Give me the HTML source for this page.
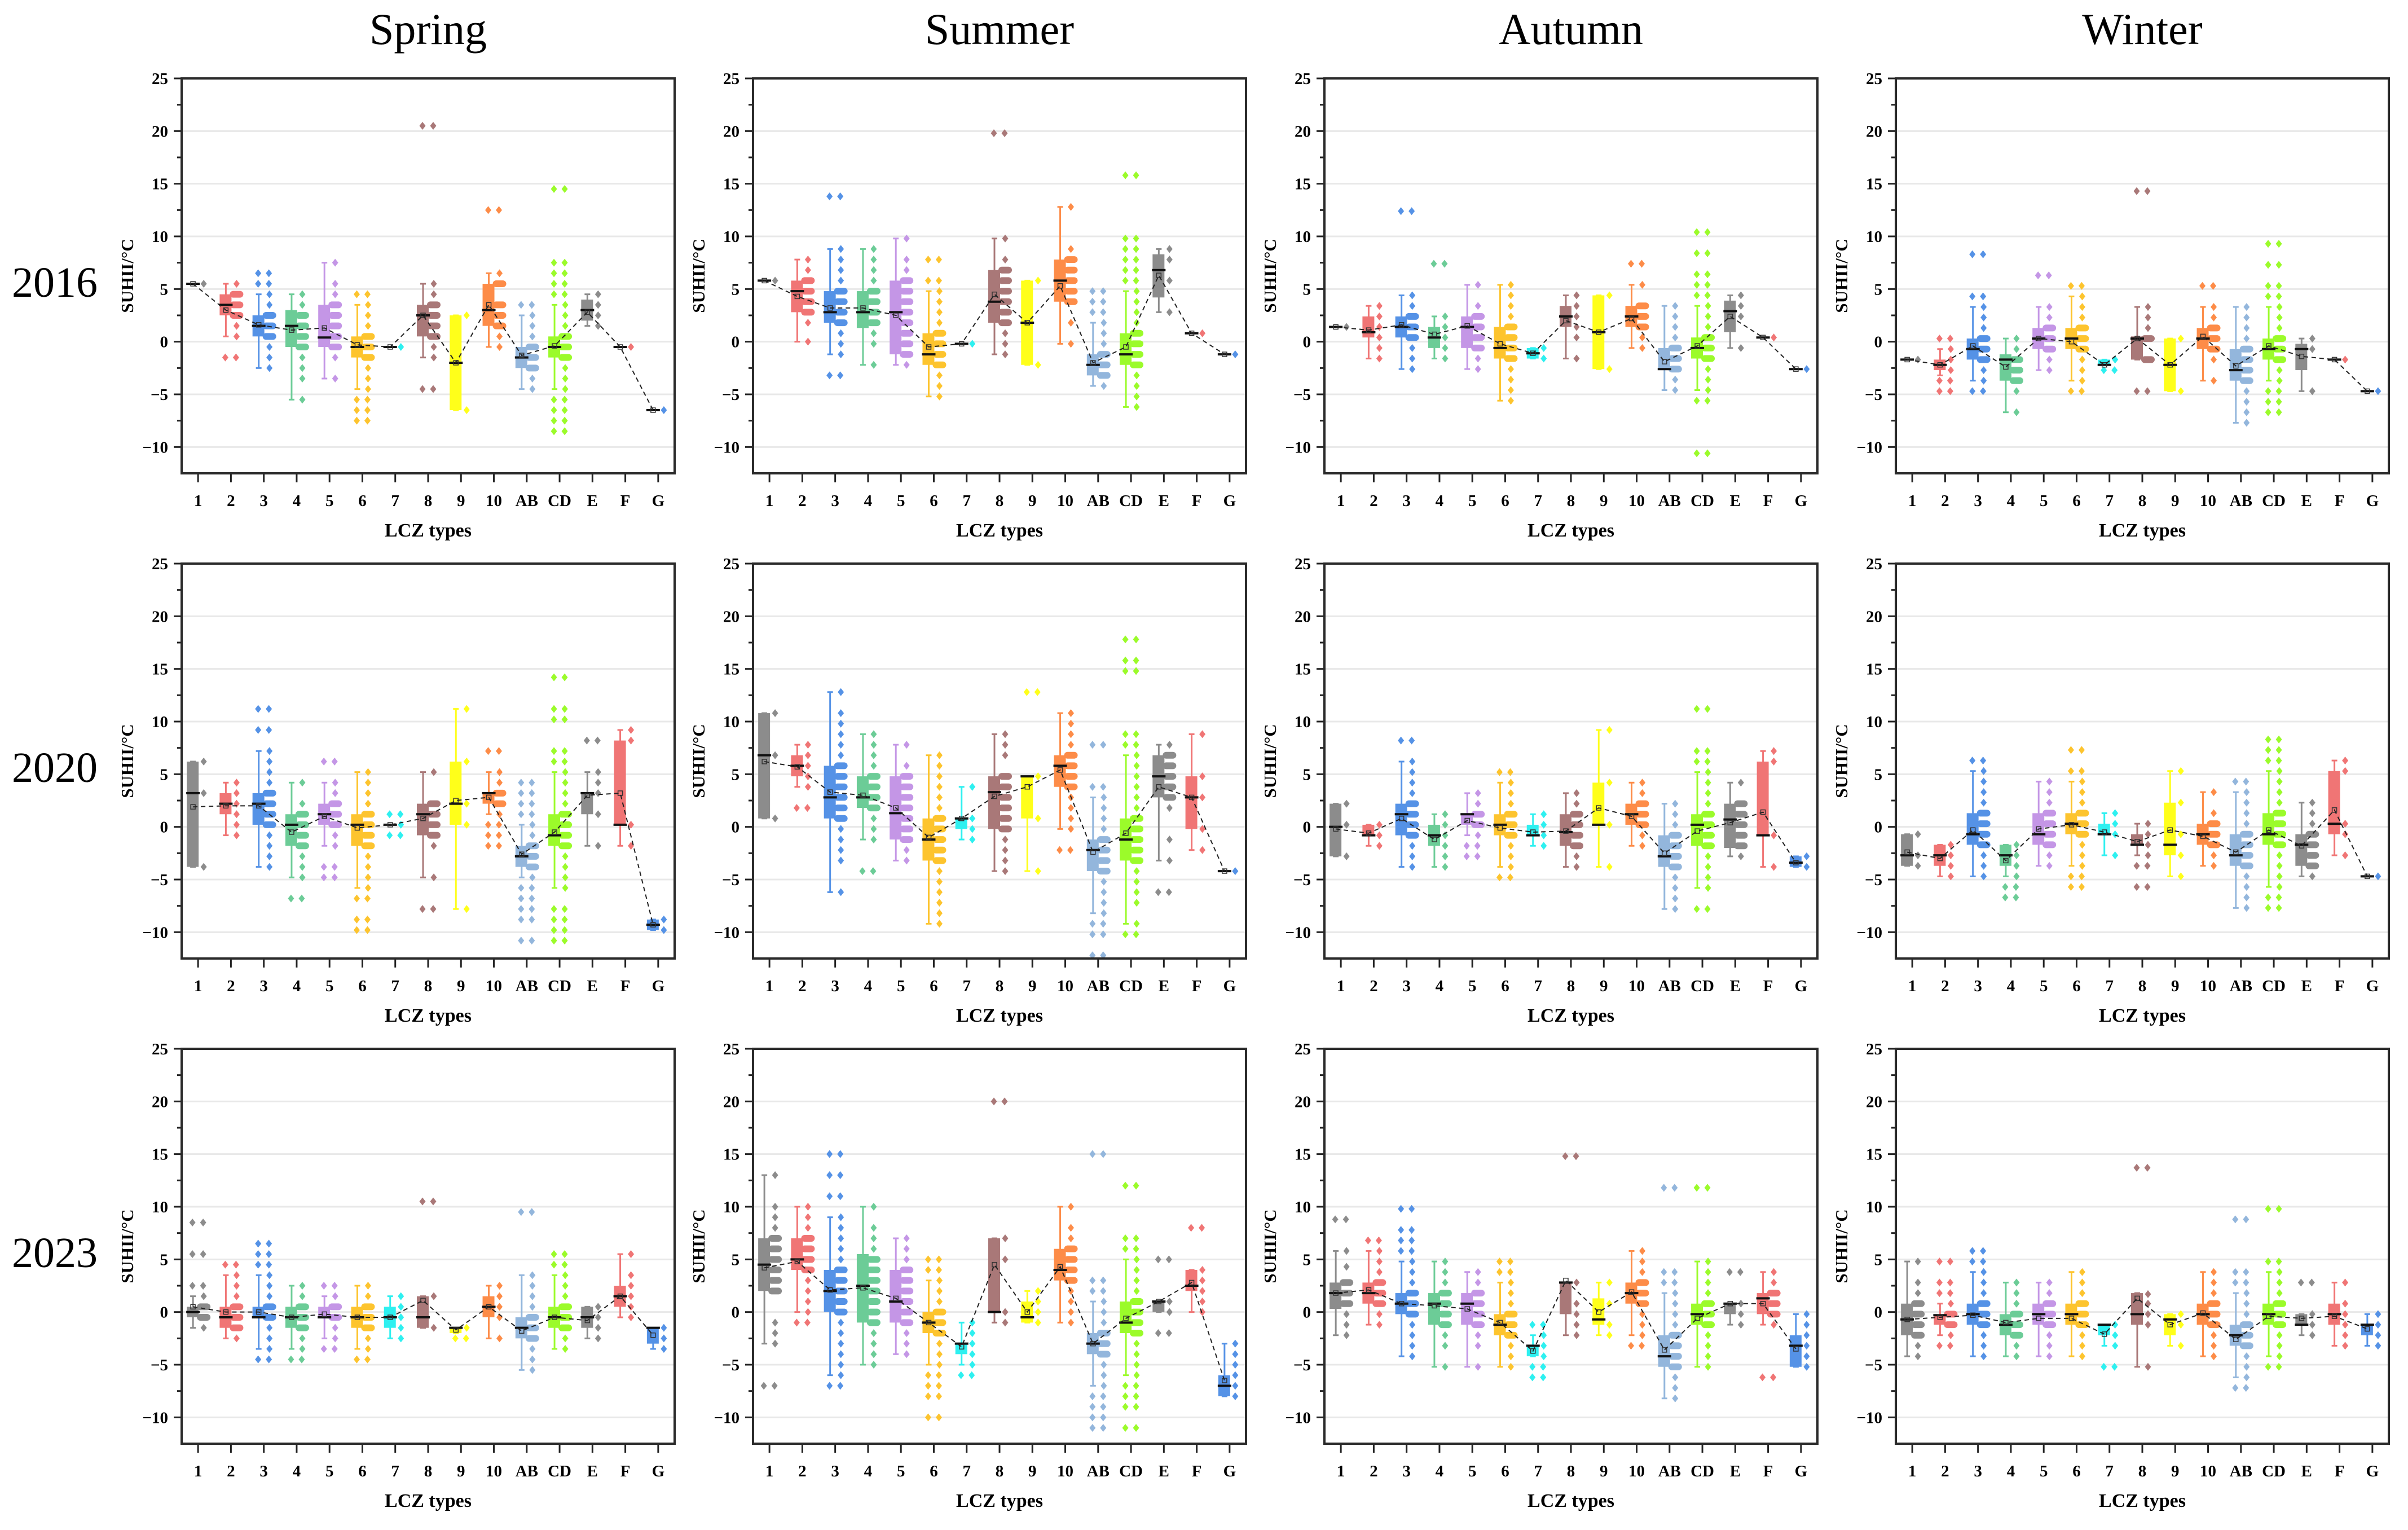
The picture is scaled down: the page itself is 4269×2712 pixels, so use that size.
<!DOCTYPE html>
<html><head><meta charset="utf-8"><title>SUHII by LCZ types</title>
<style>html,body{margin:0;padding:0;background:#fff}svg{display:block}</style></head>
<body>
<svg id="chart" xmlns="http://www.w3.org/2000/svg" width="4269" height="2712" viewBox="0 0 4269 2712" style="font-family:'Liberation Serif',serif">
<rect x="0" y="0" width="4269" height="2712" fill="#fff"/>
</svg>
<script>
const categories = ["1","2","3","4","5","6","7","8","9","10","AB","CD","E","F","G"];
const seasons = ["Spring","Summer","Autumn","Winter"];
const years = ["2016","2020","2023"];
const yTicks = [-10,-5,0,5,10,15,20,25];
const colors = ["#8c8c8c","#f07575","#5592e6","#6ccc97","#c496e6","#fdc42e","#2ef0f0","#a97878","#ffff1a","#fd8c48","#93b6dc","#9bfb2a","#8c8c8c","#f07575","#5592e6"];
// each category: [lo, q1, median, q3, hi, mean, points]
const spring2016 = [
[5.5,5.5,5.5,5.5,5.5,5.5,[5.5]],
[0.5,2.5,3.5,4.5,5.5,3.0,[5.5,4.5,3.5,2.5,1.5,0.5,-1.5]],
[-2.5,0.5,1.5,2.5,4.5,1.6,[6.5,5.5,4.5,3.5,2.5,1.5,0.5,-0.5,-1.5,-2.5]],
[-5.5,-0.5,1.5,3,4.5,1.1,[4.5,3.5,2.5,1.5,0.5,-0.5,-1.5,-2.5,-3.5,-5.5]],
[-3.5,-0.5,0.4,3.5,7.5,1.3,[7.5,5.5,4.5,3.5,2.5,1.5,0.5,-0.5,-1.5,-3.5]],
[-4.5,-1.5,-0.5,0.5,3.5,-0.3,[4.5,3.5,2.5,1.5,0.5,-0.5,-1.5,-2.5,-3.5,-4.5,-5.5,-6.5,-7.5]],
[-0.5,-0.5,-0.5,-0.5,-0.5,-0.5,[-0.5]],
[-1.5,0.5,2.5,3.5,5.5,2.5,[20.5,5.5,4.5,3.5,2.5,1.5,0.5,-0.5,-1.5,-4.5]],
[-6.5,-6.5,-2,2.5,2.5,-2,[2.5,-6.5]],
[-0.5,1.5,3,5.5,6.5,3.5,[12.5,6.5,5.5,3.5,2.5,1.5,0.5,-0.5]],
[-4.5,-2.5,-1.5,-0.5,2.5,-1.3,[3.5,2.5,1.5,0.5,-0.5,-1.5,-2.5,-3.5,-4.5]],
[-4.5,-1.5,-0.5,0.5,3.5,-0.4,[14.5,7.5,6.5,5.5,4.5,3.5,2.5,1.5,0.5,-0.5,-1.5,-2.5,-3.5,-4.5,-5.5,-6.5,-7.5,-8.5]],
[1.5,2,3,4,4.5,2.8,[4.5,3.5,2.5,1.5]],
[-0.5,-0.5,-0.5,-0.5,-0.5,-0.5,[-0.5]],
[-6.5,-6.5,-6.5,-6.5,-6.5,-6.5,[-6.5]]];
const summer2016 = [
[5.8,5.8,5.8,5.8,5.8,5.8,[5.8]],
[0,2.8,4.8,5.8,7.8,4.3,[7.8,6.8,5.8,4.8,3.8,2.8,1.8,0]],
[-1.2,1.8,2.8,4.8,8.8,3.2,[13.8,8.8,7.8,6.8,5.8,4.8,3.8,2.8,1.8,0.8,-0.2,-1.2,-3.2]],
[-2.2,1.3,2.8,4.8,8.8,3.2,[8.8,7.8,6.8,5.8,4.8,3.8,2.8,1.8,0.8,-0.2,-2.2]],
[-2.2,-1.2,2.8,5.8,9.8,2.5,[9.8,7.8,6.8,5.8,4.8,3.8,2.8,1.8,0.8,-0.2,-1.2,-2.2]],
[-5.2,-2.2,-1.2,0.8,4.8,-0.5,[7.8,5.8,4.8,3.8,2.8,1.8,0.8,-0.2,-1.2,-2.2,-3.2,-4.2,-5.2]],
[-0.2,-0.2,-0.2,-0.2,-0.2,-0.2,[-0.2]],
[-1.2,1.8,3.8,6.8,9.8,4.5,[19.8,9.8,7.8,6.8,5.8,4.8,3.8,2.8,1.8,0.8,-0.2,-1.2]],
[-2.2,-2.2,1.8,5.8,5.8,1.8,[5.8,-2.2]],
[-0.2,3.8,5.8,7.8,12.8,5.3,[12.8,8.8,7.8,6.8,5.8,4.8,3.8,1.8,-0.2]],
[-4.2,-3.2,-2.2,-1.2,1.8,-2.0,[4.8,3.8,2.8,1.8,0.8,-0.2,-1.2,-2.2,-3.2,-4.2]],
[-6.2,-2.2,-1.2,0.8,4.8,-0.5,[15.8,9.8,8.8,7.8,6.8,5.8,4.8,3.8,2.8,1.8,0.8,-0.2,-1.2,-2.2,-3.2,-4.2,-5.2,-6.2]],
[2.8,4.2,6.8,8.3,8.8,6.3,[8.8,7.8,5.8,2.8]],
[0.8,0.8,0.8,0.8,0.8,0.8,[0.8]],
[-1.2,-1.2,-1.2,-1.2,-1.2,-1.2,[-1.2]]];
const autumn2016 = [
[1.4,1.4,1.4,1.4,1.4,1.4,[1.4]],
[-1.6,0.4,0.9,2.4,3.4,1.1,[3.4,2.4,1.4,0.4,-0.6,-1.6]],
[-2.6,0.4,1.4,2.4,4.4,1.6,[12.4,4.4,3.4,2.4,1.4,0.4,-0.6,-1.6,-2.6]],
[-1.6,-0.6,0.4,1.4,2.4,0.7,[7.4,2.4,1.4,0.4,-0.6,-1.6]],
[-2.6,-0.6,1.4,2.4,5.4,1.5,[5.4,3.4,2.4,1.4,0.4,-0.6,-1.6,-2.6]],
[-5.6,-1.6,-0.6,1.4,5.4,-0.2,[5.4,4.4,3.4,2.4,1.4,0.4,-0.6,-1.6,-2.6,-3.6,-4.6,-5.6]],
[-1.6,-1.6,-1.1,-0.6,-0.6,-1.1,[-0.6,-1.6]],
[-1.6,1.4,2.4,3.4,4.4,2.0,[4.4,3.4,2.4,1.4,0.4,-1.6]],
[-2.6,-2.6,0.9,4.4,4.4,0.9,[4.4,-2.6]],
[-0.6,1.4,2.4,3.4,5.4,2.2,[7.4,5.4,3.4,2.4,1.4,0.4,-0.6]],
[-4.6,-2.6,-2.6,-0.6,3.4,-1.9,[3.4,2.4,1.4,0.4,-0.6,-1.6,-2.6,-3.6,-4.6]],
[-4.6,-1.6,-0.6,0.4,3.4,-0.4,[10.4,8.4,6.4,5.4,4.4,3.4,2.4,1.4,0.4,-0.6,-1.6,-2.6,-3.6,-4.6,-5.6,-10.6]],
[-0.6,0.9,2.9,3.9,4.4,2.4,[4.4,3.4,2.4,-0.6]],
[0.4,0.4,0.4,0.4,0.4,0.4,[0.4]],
[-2.6,-2.6,-2.6,-2.6,-2.6,-2.6,[-2.6]]];
const winter2016 = [
[-1.7,-1.7,-1.7,-1.7,-1.7,-1.7,[-1.7]],
[-3.2,-2.7,-2.2,-1.7,-0.7,-2.2,[0.3,-0.7,-1.7,-2.7,-3.7,-4.7]],
[-3.7,-1.7,-0.7,0.3,3.3,-0.4,[8.3,4.3,3.3,2.3,1.3,0.3,-0.7,-1.7,-2.7,-3.7,-4.7]],
[-6.7,-3.7,-1.7,-1.2,0.3,-2.4,[0.3,-0.7,-1.7,-2.7,-3.7,-4.7,-6.7]],
[-2.7,-0.7,0.3,1.3,3.3,0.3,[6.3,3.3,2.3,1.3,0.3,-0.7,-1.7,-2.7]],
[-3.7,-0.7,0.3,1.3,4.3,0,[5.3,4.3,3.3,2.3,1.3,0.3,-0.7,-1.7,-2.7,-3.7,-4.7]],
[-2.2,-2.2,-2.2,-1.7,-1.7,-2.2,[-1.7,-2.7]],
[-1.7,-1.7,0.3,0.5,3.3,0.3,[14.3,3.3,2.3,1.3,0.3,-1.7,-4.7]],
[-4.7,-4.7,-2.2,0.3,0.3,-2.2,[0.3,-4.7]],
[-3.7,-0.7,0.3,1.3,3.3,0.5,[5.3,3.3,2.3,1.3,0.3,-0.7,-1.7,-3.7]],
[-7.7,-3.7,-2.7,-0.7,3.3,-2.3,[3.3,2.3,1.3,0.3,-0.7,-1.7,-2.7,-3.7,-4.7,-5.7,-6.7,-7.7]],
[-3.7,-1.7,-0.7,0.3,3.3,-0.4,[9.3,7.3,5.3,4.3,3.3,2.3,1.3,0.3,-0.7,-1.7,-2.7,-3.7,-4.7,-5.7,-6.7]],
[-4.7,-2.7,-0.7,-0.2,0.3,-1.4,[0.3,-0.7,-4.7]],
[-1.7,-1.7,-1.7,-1.7,-1.7,-1.7,[-1.7]],
[-4.7,-4.7,-4.7,-4.7,-4.7,-4.7,[-4.7]]];
const spring2020 = [
[-3.8,-3.8,3.2,6.2,6.2,1.9,[6.2,3.2,-3.8]],
[-0.8,1.2,2.2,3.2,4.2,2.0,[4.2,3.2,2.2,1.2,0.2,-0.8]],
[-3.8,0.2,2.2,3.2,7.2,2.0,[11.2,9.2,7.2,6.2,5.2,4.2,3.2,2.2,1.2,0.2,-0.8,-1.8,-2.8,-3.8]],
[-4.8,-1.8,0.2,1.2,4.2,-0.5,[4.2,2.2,1.2,0.2,-0.8,-1.8,-2.8,-3.8,-4.8,-6.8]],
[-1.8,0.2,1.2,2.2,4.2,1.0,[6.2,4.2,3.2,2.2,1.2,0.2,-0.8,-1.8,-3.8,-4.8]],
[-5.8,-1.8,0.2,1.2,5.2,-0.1,[5.2,4.2,3.2,2.2,1.2,0.2,-0.8,-1.8,-2.8,-3.8,-4.8,-5.8,-6.8,-8.8,-9.8]],
[0.2,0.2,0.2,0.2,0.2,0.2,[1.2,0.2,-0.8]],
[-4.8,-0.8,1.2,2.2,5.2,0.8,[5.2,2.2,1.2,0.2,-0.8,-1.8,-4.8,-7.8]],
[-7.8,0.2,2.2,6.2,11.2,2.5,[11.2,6.2,2.2,0.2,-7.8]],
[1.2,2.2,3.2,3.2,5.2,2.8,[7.2,5.2,4.2,3.2,2.2,1.2,0.2,-0.8,-1.8]],
[-4.8,-3.8,-2.8,-1.8,0.2,-2.6,[4.2,3.2,2.2,1.2,0.2,-0.8,-1.8,-2.8,-3.8,-4.8,-5.8,-6.8,-7.8,-8.8,-10.8]],
[-5.8,-1.8,-0.8,1.2,5.2,-0.5,[14.2,11.2,10.2,7.2,6.2,5.2,4.2,3.2,2.2,1.2,0.2,-0.8,-1.8,-2.8,-3.8,-4.8,-5.8,-7.8,-8.8,-9.8,-10.8]],
[-1.8,1.2,3.2,3.2,5.2,3.0,[8.2,5.2,4.2,3.2,1.2,-1.8]],
[-1.8,0.2,0.2,8.2,9.2,3.2,[9.2,8.2,0.2,-1.8]],
[-9.8,-9.8,-9.3,-8.8,-8.8,-9.3,[-8.8,-9.8]]];
const summer2020 = [
[0.8,0.8,6.8,10.8,10.8,6.2,[10.8,6.8,0.8]],
[3.8,4.8,5.8,6.8,7.8,5.7,[7.8,6.8,5.8,4.8,3.8,1.8]],
[-6.2,0.8,2.8,5.8,12.8,3.3,[12.8,10.8,9.8,8.8,7.8,6.8,5.8,4.8,3.8,2.8,1.8,0.8,-0.2,-1.2,-2.2,-3.2,-6.2]],
[-1.2,1.8,2.8,4.8,8.8,3.0,[8.8,7.8,6.8,5.8,4.8,3.8,2.8,1.8,0.8,-0.2,-1.2,-4.2]],
[-3.2,-1.2,1.3,4.8,7.8,1.8,[7.8,5.8,4.8,3.8,2.8,1.8,0.8,-0.2,-1.2,-2.2,-3.2]],
[-9.2,-3.2,-1.2,0.8,6.8,-1.0,[6.8,5.8,4.8,3.8,2.8,1.8,0.8,-0.2,-1.2,-2.2,-3.2,-4.2,-5.2,-6.2,-7.2,-8.2,-9.2]],
[-1.2,-0.2,0.8,0.8,3.8,0.8,[3.8,0.8,-0.2,-1.2]],
[-4.2,-0.2,3.3,4.8,8.8,2.9,[8.8,7.8,6.8,4.8,3.8,2.8,1.8,0.8,-0.2,-1.2,-2.2,-3.2,-4.2]],
[-4.2,0.8,4.8,4.8,4.8,3.8,[12.8,4.8,0.8,-4.2]],
[-0.2,3.8,5.8,6.8,10.8,5.4,[10.8,9.8,8.8,7.8,6.8,5.8,4.8,3.8,2.8,1.8,0.8,-0.2,-2.2]],
[-8.2,-4.2,-2.2,-1.2,2.8,-2.4,[7.8,3.8,2.8,1.8,0.8,-0.2,-1.2,-2.2,-3.2,-4.2,-5.2,-6.2,-7.2,-8.2,-9.2,-10.2,-12.2]],
[-9.2,-3.2,-1.2,0.8,6.8,-0.6,[17.8,15.8,14.8,8.8,7.8,6.8,5.8,4.8,3.8,2.8,1.8,0.8,-0.2,-1.2,-2.2,-3.2,-4.2,-5.2,-6.2,-7.2,-9.2,-10.2]],
[-3.2,2.8,4.8,6.8,7.8,3.8,[7.8,6.8,5.8,4.8,3.8,2.8,1.8,-1.2,-3.2,-6.2]],
[-2.2,-0.2,2.8,4.8,8.8,2.8,[8.8,4.8,2.8,-0.2,-2.2]],
[-4.2,-4.2,-4.2,-4.2,-4.2,-4.2,[-4.2]]];
const autumn2020 = [
[-2.8,-2.8,0,2.2,2.2,-0.2,[2.2,0.2,-2.8]],
[-1.8,-0.8,-0.8,0.2,0.2,-0.6,[0.2,-0.8,-1.8]],
[-3.8,-0.8,1.2,2.2,6.2,0.8,[8.2,6.2,5.2,4.2,3.2,2.2,1.2,0.2,-0.8,-1.8,-2.8,-3.8]],
[-3.8,-1.8,-0.8,0.2,1.2,-1.2,[1.2,0.2,-0.8,-1.8,-2.8,-3.8]],
[-0.8,0.2,1.2,1.2,3.2,0.6,[3.2,2.2,1.2,0.2,-0.8,-1.8,-2.8]],
[-3.8,-0.8,0.2,1.2,4.2,-0.1,[5.2,4.2,3.2,2.2,1.2,0.2,-0.8,-1.8,-2.8,-3.8,-4.8]],
[-1.8,-0.8,-0.8,0.2,1.2,-0.5,[1.2,0.2,-0.8,-1.8]],
[-3.8,-1.8,-0.5,1.2,3.2,-0.4,[3.2,2.2,1.2,0.2,-0.8,-1.8,-2.8,-3.8]],
[-3.8,0.2,0.2,4.2,9.2,1.8,[9.2,4.2,0.2,-3.8]],
[-1.8,0.2,1.2,2.2,4.2,1.0,[4.2,3.2,2.2,1.2,0.2,-0.8,-1.8]],
[-7.8,-3.8,-2.8,-0.8,2.2,-2.5,[2.2,1.2,0.2,-0.8,-1.8,-2.8,-3.8,-4.8,-5.8,-6.8,-7.8]],
[-5.8,-1.8,0.2,1.2,5.2,-0.4,[11.2,7.2,6.2,5.2,4.2,3.2,2.2,1.2,0.2,-0.8,-1.8,-2.8,-3.8,-4.8,-5.8,-7.8]],
[-2.8,-2.0,0.7,2.2,4.2,0.4,[4.2,2.2,1.2,0.2,-0.8,-1.8,-2.8]],
[-3.8,-0.8,-0.8,6.2,7.2,1.4,[7.2,6.2,-0.8,-3.8]],
[-3.8,-3.8,-3.4,-2.8,-2.8,-3.4,[-2.8,-3.8]]];
const winter2020 = [
[-3.7,-3.7,-2.7,-0.7,-0.7,-2.4,[-0.7,-2.7,-3.7]],
[-4.7,-3.7,-2.7,-1.7,-1.7,-3.0,[-1.7,-2.7,-3.7,-4.7]],
[-4.7,-1.7,-0.7,1.3,5.3,-0.3,[6.3,5.3,4.3,3.3,2.3,1.3,0.3,-0.7,-1.7,-2.7,-3.7,-4.7]],
[-4.7,-3.7,-2.7,-1.7,-1.7,-3.2,[-1.7,-2.7,-3.7,-4.7,-5.7,-6.7]],
[-3.7,-1.7,-0.7,1.3,4.3,-0.2,[4.3,3.3,2.3,1.3,0.3,-0.7,-1.7,-2.7,-3.7]],
[-3.7,-0.7,0.3,1.3,4.3,0.2,[7.3,5.3,4.3,3.3,2.3,1.3,0.3,-0.7,-1.7,-2.7,-3.7,-4.7,-5.7]],
[-2.7,-0.7,-0.7,0.3,1.3,-0.5,[1.3,0.3,-0.7,-2.7]],
[-2.7,-1.7,-1.7,-0.7,0.3,-1.4,[0.3,-0.7,-1.7,-2.7,-3.7,-5.7]],
[-4.7,-2.7,-1.7,2.3,5.3,-0.3,[5.3,2.3,-0.7,-2.7,-4.7]],
[-3.7,-1.7,-0.7,0.3,3.3,-0.9,[3.3,1.3,0.3,-0.7,-1.7,-2.7,-3.7]],
[-7.7,-3.7,-2.7,-0.7,3.3,-2.4,[4.3,3.3,2.3,1.3,0.3,-0.7,-1.7,-2.7,-3.7,-4.7,-5.7,-6.7,-7.7]],
[-5.7,-1.7,-0.7,1.3,5.3,-0.3,[8.3,7.3,6.3,5.3,4.3,3.3,2.3,1.3,0.3,-0.7,-1.7,-2.7,-3.7,-4.7,-5.7,-6.7,-7.7]],
[-4.7,-3.7,-1.7,-0.7,2.3,-1.8,[2.3,1.3,0.3,-0.7,-1.7,-2.7,-3.7,-4.7]],
[-2.7,-0.7,0.3,5.3,6.3,1.6,[6.3,5.3,0.3,-0.7,-2.7]],
[-4.7,-4.7,-4.7,-4.7,-4.7,-4.7,[-4.7]]];
const spring2023 = [
[-1.5,-0.5,0,0.5,1.5,0.5,[8.5,5.5,2.5,1.5,0.5,-0.5,-1.5]],
[-2.5,-1.5,-0.5,0.5,3.5,0,[4.5,3.5,2.5,1.5,0.5,-0.5,-1.5,-2.5]],
[-3.5,-0.5,-0.5,0.5,3.5,0,[6.5,5.5,4.5,3.5,2.5,1.5,0.5,-0.5,-1.5,-2.5,-3.5,-4.5]],
[-3.5,-1.5,-0.5,0.5,2.5,-0.5,[2.5,1.5,0.5,-0.5,-1.5,-2.5,-3.5,-4.5]],
[-2.5,-0.5,-0.5,0.5,1.5,-0.2,[2.5,1.5,0.5,-0.5,-1.5,-2.5,-3.5]],
[-3.5,-1.5,-0.5,0.5,2.5,-0.5,[2.5,1.5,0.5,-0.5,-1.5,-2.5,-3.5,-4.5]],
[-2.5,-1.5,-0.5,0.5,1.5,-0.5,[1.5,0.5,-0.5,-1.5,-2.5]],
[-1.5,-1.5,-0.5,1.5,1.5,1.1,[10.5,1.5,-1.5]],
[-2,-2,-1.5,-1.5,-1.5,-1.7,[-1.5,-2.5]],
[-2.5,-0.5,0.5,1.5,2.5,0.5,[2.5,1.5,0.5,-0.5,-2.5]],
[-5.5,-2.5,-1.5,-0.5,3.5,-1.8,[9.5,3.5,2.5,1.5,0.5,-0.5,-1.5,-2.5,-3.5,-4.5,-5.5]],
[-3.5,-1.5,-0.5,0.5,3.5,-0.5,[5.5,4.5,3.5,2.5,1.5,0.5,-0.5,-1.5,-2.5,-3.5]],
[-2.5,-1.5,-0.5,0.5,0.5,-0.8,[0.5,-0.5,-1.5,-2.5]],
[-0.5,0.5,1.5,2.5,5.5,1.5,[5.5,3.5,2.5,1.5,0.5,-0.5]],
[-3.5,-3,-1.5,-1.5,-1.5,-2.2,[-1.5,-2.5,-3.5]]];
const summer2023 = [
[-3,2,4.5,7,13,4.2,[13,10,9,8,7,6,5,4,3,2,-1,-2,-3,-7]],
[0,4,5,7,10,4.8,[10,9,8,7,6,5,4,3,2,1,0,-1]],
[-6,0,2,4,9,2.1,[15,13,11,9,8,7,6,5,4,3,2,1,0,-1,-2,-3,-4,-5,-6,-7]],
[-5,-1,2.5,5.5,10,2.3,[10,8,7,6,5,4,3,2,1,0,-1,-2,-3,-4,-5]],
[-4,-1,1,4,7,1.3,[7,6,5,4,3,2,1,0,-1,-2,-3,-4]],
[-5,-2,-1,0,3,-1,[5,4,3,2,1,0,-1,-2,-3,-4,-5,-6,-7,-8,-10]],
[-5,-4,-3,-3,-1,-3.3,[-1,-2,-3,-4,-5,-6]],
[-1,0,0,7,7,4.5,[20,7,5,0,-1]],
[-1,-1,-0.5,1,2,0,[2,1,0,-1]],
[-1,3,4,6,10,4.3,[10,8,7,6,5,4,3,2,1,0,-1]],
[-7,-4,-3,-2,1,-3,[15,3,2,1,0,-1,-2,-3,-4,-5,-6,-7,-8,-9,-10,-11]],
[-6,-2,-1,1,5,-0.6,[12,7,6,5,4,3,2,1,0,-1,-2,-3,-4,-5,-6,-7,-8,-9,-11]],
[0,0,1,1,1,1,[5,1,0,-2]],
[0,2,2.5,4,4,2.8,[8,4,3,2,1,0]],
[-8,-8,-7,-6,-3,-6.5,[-3,-4,-5,-6,-7,-8]]];
const autumn2023 = [
[-2.2,0.3,1.8,2.8,5.8,1.8,[8.8,5.8,4.3,2.8,1.8,0.8,-0.2,-1.2,-2.2]],
[-1.2,0.8,1.8,2.8,5.8,2.1,[6.8,5.8,4.8,3.8,2.8,1.8,0.8,-0.2,-1.2]],
[-4.2,-0.2,0.8,1.8,4.8,0.8,[9.8,7.8,6.8,5.8,4.8,3.8,2.8,1.8,0.8,-0.2,-1.2,-2.2,-3.2,-4.2]],
[-5.2,-1.2,0.8,1.8,4.8,0.6,[4.8,3.8,2.8,1.8,0.8,-0.2,-1.2,-2.2,-3.2,-5.2]],
[-5.2,-1.2,0.8,1.8,3.8,0.3,[3.8,2.8,1.8,0.8,-0.2,-1.2,-2.2,-3.2,-5.2]],
[-5.2,-2.2,-1.2,-0.2,2.8,-1,[4.8,3.8,2.8,1.8,0.8,-0.2,-1.2,-2.2,-3.2,-4.2,-5.2]],
[-4.2,-4.2,-3.2,-3.2,-2.2,-3.7,[-1.2,-2.2,-3.2,-4.2,-5.2,-6.2]],
[-2.2,-0.2,2.8,2.8,2.8,3.0,[14.8,2.8,0.8,-0.2,-1.2,-2.2]],
[-2.2,-1.2,-0.7,1.3,2.8,0,[2.8,0.8,-1.2,-2.2]],
[-2.2,0.8,1.8,2.8,5.8,1.9,[5.8,4.8,3.8,2.8,1.8,0.8,-0.2,-1.2,-2.2,-3.2]],
[-8.2,-5.2,-4.2,-2.2,1.8,-3.6,[11.8,3.8,2.8,1.8,0.8,-0.2,-1.2,-2.2,-3.2,-4.2,-5.2,-6.2,-7.2,-8.2]],
[-5.2,-1.2,-0.2,0.8,4.8,-0.6,[11.8,4.8,3.8,2.8,1.8,0.8,-0.2,-1.2,-2.2,-3.2,-4.2,-5.2]],
[-1.2,-0.2,0.8,0.8,0.8,0.8,[3.8,0.8,-0.2,-1.2]],
[-1.2,-0.2,1.3,1.8,3.8,0.8,[3.8,2.8,1.8,0.8,-0.2,-1.2,-6.2]],
[-5.2,-5.2,-3.2,-2.2,-0.2,-3.5,[-0.2,-1.2,-2.2,-3.2,-4.2,-5.2]]];
const winter2023 = [
[-4.2,-2.2,-0.7,0.8,4.8,-0.7,[4.8,2.8,1.8,0.8,-0.2,-1.2,-2.2,-3.2,-4.2]],
[-2.2,-1.2,-0.3,-0.2,0.8,-0.5,[4.8,2.8,1.8,0.8,-0.2,-1.2,-2.2,-3.2]],
[-4.2,-1.2,-0.2,0.8,3.8,-0.3,[5.8,4.8,3.8,2.8,1.8,0.8,-0.2,-1.2,-2.2,-3.2,-4.2]],
[-4.2,-2.2,-1.2,-0.2,2.8,-1.0,[2.8,1.8,0.8,-0.2,-1.2,-2.2,-3.2,-4.2]],
[-4.2,-1.2,-0.2,0.8,2.8,-0.6,[2.8,1.8,0.8,-0.2,-1.2,-2.2,-3.2,-4.2]],
[-4.2,-1.2,-0.2,0.8,3.8,-0.6,[3.8,2.8,1.8,0.8,-0.2,-1.2,-2.2,-3.2,-4.2]],
[-3.2,-2.2,-1.2,-1.2,-1.2,-2.1,[-1.2,-2.2,-3.2,-5.2]],
[-5.2,-1.2,-0.2,1.8,1.8,1.3,[13.7,1.7,0.8,-0.2,-1.2,-5.2]],
[-3.2,-2.2,-0.7,-0.2,-0.2,-1.2,[-0.2,-1.2,-3.2]],
[-4.2,-1.2,-0.2,0.8,3.8,-0.1,[3.8,2.8,1.8,0.8,-0.2,-1.2,-2.2,-3.2,-4.2]],
[-6.2,-3.2,-2.2,-1.2,1.8,-2.6,[8.8,3.8,2.8,1.8,0.8,-0.2,-1.2,-2.2,-3.2,-4.2,-5.2,-6.2,-7.2]],
[-4.2,-1.2,-0.2,0.8,3.8,-0.4,[9.8,4.8,3.8,2.8,1.8,0.8,-0.2,-1.2,-2.2,-3.2,-4.2,-5.2]],
[-2.2,-1.2,-1.2,-0.2,-0.2,-0.6,[2.8,-0.2,-1.2,-2.2]],
[-3.2,-1.2,-0.2,0.8,2.8,-0.4,[2.8,0.8,-0.2,-1.2,-2.2,-3.2]],
[-3.2,-2.2,-1.2,-1.2,-0.2,-1.6,[-0.2,-1.2,-2.2,-3.2]]];
const panelData = [
[spring2016,summer2016,autumn2016,winter2016],
[spring2020,summer2020,autumn2020,winter2020],
[spring2023,summer2023,autumn2023,winter2023]];

const NS = "http://www.w3.org/2000/svg";
const svg = document.getElementById("chart");
const LEFTS = [322,1335,2348,3361], TOPS = [139,999,1859], PW = 874, PH = 700;
const YMAX = 25, YMIN = -12.5;
function mk(tag, attrs, parent){const e=document.createElementNS(NS,tag);for(const k in attrs)e.setAttribute(k,attrs[k]);(parent||svg).appendChild(e);return e;}
function yScale(top,v){return top+(YMAX-v)*PH/(YMAX-YMIN);}
function xScale(left,i){return left+(i+0.5)*PW/categories.length;}

seasons.forEach((s,c)=>{
  const t=mk("text",{x:LEFTS[c]+PW/2,y:78,"text-anchor":"middle","font-size":"78"});
  t.textContent=s;
  
  
});
years.forEach((yr,r)=>{
  const t=mk("text",{x:97,y:TOPS[r]+387,"text-anchor":"middle","font-size":"76"});
  t.textContent=yr;
  
  
});

function diamond(g,x,y,color){
  const p=mk("path",{d:`M${x},${y-7}L${x+5.5},${y}L${x},${y+7}L${x-5.5},${y}Z`,fill:color},g);
  
  
}

for(let r=0;r<3;r++)for(let c=0;c<4;c++){
  const L=LEFTS[c],T=TOPS[r],data=panelData[r][c];
  const g=mk("g",{});
  
  
  // gridlines
  yTicks.forEach(v=>{
    if(v<YMAX){const gl=mk("line",{x1:L,x2:L+PW,y1:yScale(T,v),y2:yScale(T,v),stroke:"#e8e8e8","stroke-width":3},g);
    
    }
  });
  // y ticks and labels
  for(let v=-10;v<=25;v+=2.5){
    const y=yScale(T,v),major=(v%5===0);
    const tk=mk("line",{x1:L-(major?14:8),x2:L,y1:y,y2:y,stroke:"#222","stroke-width":3},g);
    
    
  }
  yTicks.forEach(v=>{
    const t=mk("text",{x:L-24,y:yScale(T,v)+10,"text-anchor":"end","font-size":"29","font-weight":"bold"},g);
    t.textContent=v<0?"\u2212"+Math.abs(v):String(v);
    
    
  });
  // y title
  const yt=mk("text",{x:0,y:0,"text-anchor":"middle","font-size":"31","font-weight":"bold",transform:`translate(${L-86},${T+350}) rotate(-90)`},g);
  yt.textContent="SUHII/\u00B0C";
  
  
  // x ticks & labels
  categories.forEach((cat,i)=>{
    const x=xScale(L,i);
    const tk=mk("line",{x1:x,x2:x,y1:T+PH,y2:T+PH+16,stroke:"#222","stroke-width":3},g);
    
    
    const t=mk("text",{x:x,y:T+PH+58,"text-anchor":"middle","font-size":"29","font-weight":"bold"},g);
    t.textContent=cat;
    
    
  });
  const xt=mk("text",{x:L+PW/2,y:T+PH+112,"text-anchor":"middle","font-size":"34","font-weight":"bold"},g);
  xt.textContent="LCZ types";
  
  
  // boxes
  data.forEach((d,i)=>{
    const [lo,q1,md,q3,hi,mn,pts]=d, col=colors[i], x=xScale(L,i);
    const bg=mk("g",{},g);
    
    
    const wx=x-9;
    const wh=mk("line",{x1:wx,x2:wx,y1:yScale(T,hi),y2:yScale(T,lo),stroke:col,"stroke-width":3},bg);
    
    
    [hi,lo].forEach(v=>{
      const cp=mk("line",{x1:wx-5,x2:wx+5,y1:yScale(T,v),y2:yScale(T,v),stroke:col,"stroke-width":3},bg);
      
      
    });
    const bx=mk("rect",{x:x-20,y:yScale(T,q3),width:21,height:Math.max(0,yScale(T,q1)-yScale(T,q3)),fill:col},bg);
    
    
    pts.forEach(v=>{
      const y=yScale(T,v);
      if(v>hi+0.01||v<lo-0.01){diamond(bg,x-10,y,col);diamond(bg,x+9,y,col);}
      else if(q3>q1&&v>=q1&&v<=q3&&pts.length>6){
        const b=mk("rect",{x:x-2,y:y-6,width:24,height:12,rx:6,fill:col},bg);
        
        
      } else diamond(bg,x+10,y,col);
    });
    const ml=mk("line",{x1:x-21,x2:x+3,y1:yScale(T,md),y2:yScale(T,md),stroke:"#111","stroke-width":4},bg);
    
    
    const ms=mk("rect",{x:wx-4,y:yScale(T,mn)-4,width:8,height:8,fill:"none",stroke:"#333","stroke-width":1.5},bg);
    
    
  });
  const path=data.map((d,i)=>(i?"L":"M")+(xScale(L,i)-9)+","+yScale(T,d[5])).join("");
  const ln=mk("path",{d:path,fill:"none",stroke:"#222","stroke-width":2,"stroke-dasharray":"8,6"},g);
  
  
  const fr=mk("rect",{x:L,y:T,width:PW,height:PH,fill:"none",stroke:"#2a2a2a","stroke-width":4},g);
  
  
}
</script>
</body></html>
